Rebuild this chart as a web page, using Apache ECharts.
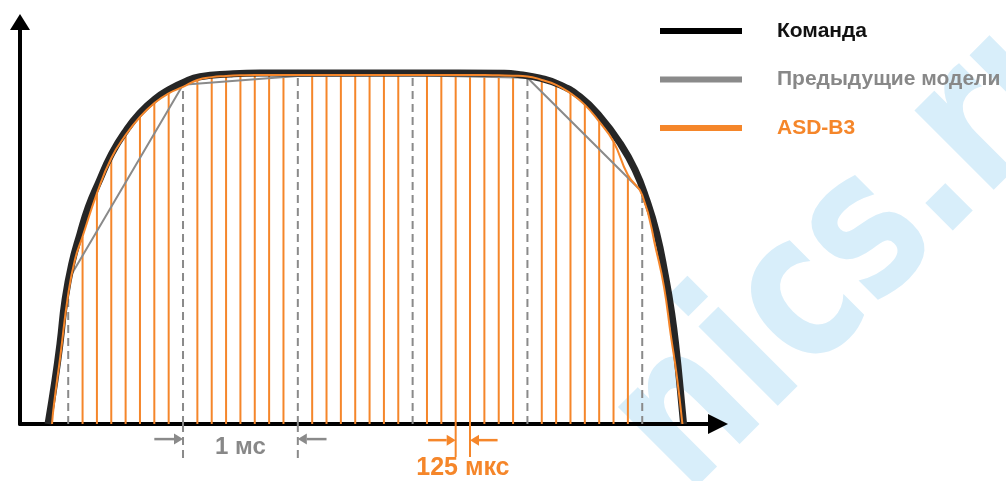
<!DOCTYPE html>
<html>
<head>
<meta charset="utf-8">
<script src="https://cdn.jsdelivr.net/npm/echarts@6/dist/echarts.min.js"></script>
<style>
html,body{margin:0;padding:0;background:#fff;}
#c{width:1006px;height:481px;}
</style>
</head>
<body>
<div id="c"></div>
<script>
// ---- data (time in ms, value in % of command plateau) ----
const cmdT = [-0.176,-0.115,-0.071,-0.028,0.030,0.103,0.175,0.262,0.379,0.510,0.625,0.756,0.887,1.003,1.148,1.409,1.671,2.2,2.8,3.4,3.8,3.935,4.110,4.284,4.458,4.632,4.806,4.937,5.039,5.126,5.198,5.257,5.300,5.335,5.360];
const cmdV = [0,12.5,23.1,35.3,45.5,54.2,61.8,68.6,77.0,83.9,88.6,92.6,95.4,97.3,98.9,99.7,100,100,100,100,99.9,99.5,98.5,96.6,93.2,87.6,80.0,72.4,63.8,54.3,42.9,31.5,20.1,8.7,0];

const prevT = [0,1,2,3,4,5];
const prevV = [41.0,96.6,99.1,99.3,98.6,66.1];

// ASD-B3 response: 125 µs samples plus a few curve points between them
const asdT = [-0.141,-0.125,-0.07,0,0.06,0.125,0.25,0.375,0.5,0.625,0.75,0.875,1,1.125,1.25,1.375,1.5,1.625,1.75,1.875,2,2.125,2.25,2.375,2.5,2.625,2.75,2.875,3,3.125,3.25,3.375,3.5,3.625,3.75,3.875,4,4.125,4.25,4.375,4.5,4.625,4.75,4.875,5,5.125,5.19,5.25,5.3,5.35];
const asdV = [0,5.4,19.0,37.0,47.0,53.4,65.7,75.7,82.3,87.5,91.4,94.2,96.0,98.0,98.8,99.1,99.3,99.4,99.4,99.4,99.4,99.4,99.4,99.4,99.4,99.4,99.4,99.4,99.4,99.4,99.4,99.4,99.4,99.4,99.3,99.2,99.0,98.0,96.6,94.2,90.9,86.1,80.4,70.9,65.2,49.0,39.0,25.0,14.0,0];

const seriesNames = ['Команда','Предыдущие модели','ASD-B3'];
const mark1ms = {t0:1, t1:2, tailLen:0.25, arrowV:-4.3, labelV:-6.8, label:'1 мс', lineBottom:-10.3};
const mark125 = {t0:3.375, t1:3.5, tailLen:0.24, arrowV:-4.6, labelV:-12.6, label:'125 мкс', lineBottom:-9.4};

const ORANGE = '#f5862a', GRAY = '#8a8a8a', BLACK = '#262626';

const zip = (a,b) => a.map((x,i)=>[x,b[i]]);
const isSample = t => Math.abs(t*8 - Math.round(t*8)) < 1e-6;
const asdBars = zip(asdT, asdV).filter(p => isSample(p[0]) && p[0] > 0 && p[0] < 5 && Math.abs(p[0]-Math.round(p[0])) > 1e-6);

function vLine(api, t, v0, v1, style){
  const a = api.coord([t, v0]), b = api.coord([t, v1]);
  return {type:'line', shape:{x1:a[0],y1:a[1],x2:b[0],y2:b[1]}, style};
}
function arrow(api, tTip, tTail, v, color){
  const tip = api.coord([tTip, v]), tail = api.coord([tTail, v]);
  const dir = Math.sign(tip[0]-tail[0]);
  const hl = 9, hw = 5.5;
  return {type:'group', children:[
    {type:'line', shape:{x1:tail[0],y1:tail[1],x2:tip[0]-dir*hl,y2:tip[1]}, style:{stroke:color,lineWidth:2.5}},
    {type:'polygon', shape:{points:[[tip[0],tip[1]],[tip[0]-dir*hl,tip[1]-hw],[tip[0]-dir*hl,tip[1]+hw]]}, style:{fill:color}}
  ]};
}

const chart = echarts.init(document.getElementById('c'), null, {renderer:'canvas'});
chart.setOption({
  animation:false,
  backgroundColor:'#fff',
  grid:{left:20,right:288,top:22,bottom:57},
  xAxis:{type:'value',min:-0.42,max:5.66,
    axisLine:{show:true,onZero:false,symbol:['none','triangle'],symbolSize:[20,20],lineStyle:{color:'#000',width:4}},
    axisTick:{show:false},axisLabel:{show:false},splitLine:{show:false}},
  yAxis:{type:'value',min:0,max:114.5,
    axisLine:{show:true,onZero:false,symbol:['none','triangle'],symbolSize:[20,16],lineStyle:{color:'#000',width:4}},
    axisTick:{show:false},axisLabel:{show:false},splitLine:{show:false}},
  legend:{
    orient:'vertical',left:660,top:19,padding:0,itemGap:24.5,
    icon:'rect',itemWidth:82,itemHeight:6,
    textStyle:{fontFamily:'"Liberation Sans", Arial, sans-serif',fontWeight:'bold',fontSize:21,lineHeight:24,padding:[0,0,0,30]},
    data:[
      {name:seriesNames[0],textStyle:{color:'#111'}},
      {name:seriesNames[1],textStyle:{color:'#888'}},
      {name:seriesNames[2],textStyle:{color:ORANGE}}
    ],
    selectedMode:false
  },
  graphic:[{
    type:'text', x:650, y:458, rotation:Math.PI/4, scaleX:0.78, scaleY:1, silent:true, z:-10,
    style:{text:'nics.ru', font:'bold 205px "DejaVu Sans"', fill:'#d8eefa', verticalAlign:'middle'}
  }],
  series:[
    {type:'custom',name:'asd-samples',data:asdBars,clip:false,z:2,
      renderItem:(p,api)=>vLine(api,api.value(0),0,api.value(1),{stroke:ORANGE,lineWidth:2})},
    {type:'custom',name:'prev-samples',data:zip(prevT,prevV),clip:false,z:2,
      renderItem:(p,api)=>vLine(api,api.value(0),0,api.value(1),{stroke:GRAY,lineWidth:2,lineDash:[8,5]})},
    {type:'line',name:seriesNames[1],data:zip(prevT,prevV),showSymbol:false,z:3,
      lineStyle:{color:'#8a8a8a',width:2},itemStyle:{color:'#8a8a8a'}},
    {type:'line',name:seriesNames[0],data:zip(cmdT,cmdV),showSymbol:false,smooth:0.5,z:4,clip:false,
      lineStyle:{color:BLACK,width:7},itemStyle:{color:'#000'}},
    {type:'line',name:seriesNames[2],data:zip(asdT,asdV),showSymbol:false,smooth:0.5,z:5,clip:false,
      lineStyle:{color:ORANGE,width:2},itemStyle:{color:ORANGE}},
    // annotations
    {type:'custom',name:'ann-lines',clip:false,z:2,
      data:[[mark1ms.t0,mark1ms.lineBottom,0],[mark1ms.t1,mark1ms.lineBottom,0],[mark125.t0,mark125.lineBottom,1],[mark125.t1,mark125.lineBottom,1]],
      renderItem:(p,api)=>api.value(2)===0
        ? vLine(api,api.value(0),0,api.value(1),{stroke:GRAY,lineWidth:2,lineDash:[8,5]})
        : vLine(api,api.value(0),0,api.value(1),{stroke:ORANGE,lineWidth:2})},
    {type:'custom',name:'ann-arrows',clip:false,z:6,
      data:[[mark1ms.t0,mark1ms.t0-mark1ms.tailLen,mark1ms.arrowV,0],[mark1ms.t1,mark1ms.t1+mark1ms.tailLen,mark1ms.arrowV,0],
            [mark125.t0,mark125.t0-mark125.tailLen,mark125.arrowV,1],[mark125.t1,mark125.t1+mark125.tailLen,mark125.arrowV,1]],
      renderItem:(p,api)=>arrow(api,api.value(0),api.value(1),api.value(2),api.value(3)===0?GRAY:ORANGE)},
    {type:'custom',name:'ann-text',clip:false,z:6,
      data:[[(mark1ms.t0+mark1ms.t1)/2,mark1ms.labelV,0],[(mark125.t0+mark125.t1)/2,mark125.labelV,1]],
      renderItem:(p,api)=>{
        const c = api.coord([api.value(0),api.value(1)]);
        const isO = api.value(2)===1;
        return {type:'text',x:c[0],y:c[1],style:{text:isO?mark125.label:mark1ms.label,
          font:'bold '+(isO?25:24)+'px "Liberation Sans", Arial, sans-serif',fill:isO?ORANGE:'#888',align:'center',verticalAlign:'middle'}};
      }}
  ]
});
</script>
</body>
</html>
